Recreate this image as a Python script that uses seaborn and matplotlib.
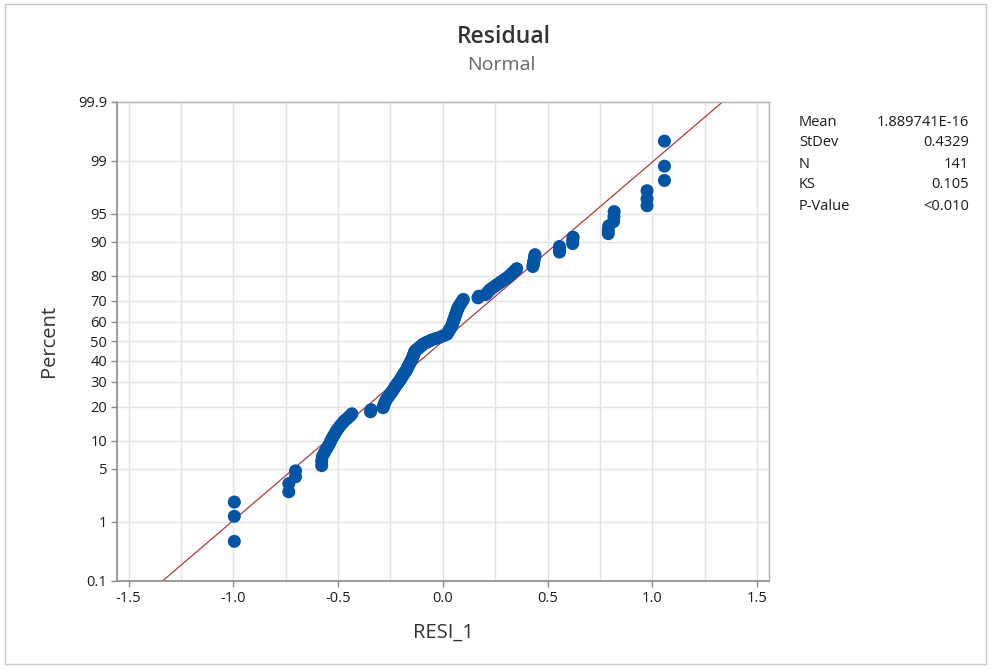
import numpy as np
import pandas as pd
import matplotlib
matplotlib.use("Agg")
import matplotlib.pyplot as plt
from matplotlib.ticker import MultipleLocator, FixedLocator, FixedFormatter
from matplotlib.patches import Rectangle
from statistics import NormalDist
import seaborn as sns

# ---- data (sorted residuals, RESI_1) ----
resid_low = [-0.995, -0.995, -0.995, -0.735, -0.735, -0.703, -0.703,
             -0.578, -0.578, -0.575, -0.565, -0.555, -0.545,
             -0.537, -0.530, -0.522, -0.514, -0.506,
             -0.497, -0.488, -0.478, -0.468, -0.455, -0.443, -0.434,
             -0.345, -0.342]
resid_mid_neg = [-0.285, -0.282, -0.279, -0.275, -0.271,
                 -0.265, -0.259, -0.253, -0.247, -0.241, -0.236,
                 -0.231, -0.226, -0.220, -0.215, -0.209, -0.204,
                 -0.199, -0.195, -0.190, -0.186, -0.181, -0.176, -0.172,
                 -0.169, -0.165, -0.162, -0.158, -0.155, -0.151, -0.148,
                 -0.145, -0.142, -0.140, -0.137, -0.135, -0.132,
                 -0.124, -0.116, -0.108, -0.100, -0.093,
                 -0.080, -0.066, -0.053, -0.033, -0.013]
resid_mid_pos = [0.003, 0.019,
                 0.023, 0.027, 0.031, 0.035, 0.039, 0.043,
                 0.045, 0.047, 0.050, 0.052, 0.054, 0.057, 0.059,
                 0.061, 0.064, 0.066, 0.069, 0.071, 0.074,
                 0.079, 0.084, 0.088, 0.093, 0.098,
                 0.168, 0.172, 0.205, 0.212, 0.219, 0.226,
                 0.238, 0.250, 0.262, 0.274, 0.287, 0.300, 0.313,
                 0.323, 0.333, 0.343, 0.353]
resid_high = [0.430, 0.432, 0.434, 0.436, 0.438, 0.440,
              0.557, 0.557, 0.557, 0.620, 0.620, 0.622,
              0.790, 0.790, 0.792, 0.815, 0.817, 0.818,
              0.975, 0.975, 0.975, 1.058, 1.058, 1.058]

y_ticks = [0.1, 1, 5, 10, 20, 30, 40, 50, 60, 70, 80, 90, 95, 99, 99.9]
y_tick_labels = ["0.1", "1", "5", "10", "20", "30", "40", "50", "60", "70",
                 "80", "90", "95", "99", "99.9"]
x_ticks = [-1.5, -1.0, -0.5, 0.0, 0.5, 1.0, 1.5]

stat_names = ["Mean", "StDev", "N", "KS", "P-Value"]
stat_values = ["1.889741E-16", "0.4329", "141", "0.105", "<0.010"]
fit_mean = 1.889741e-16
fit_sd = 0.4329

# ---- table ----
resid = np.array(resid_low + resid_mid_neg + resid_mid_pos + resid_high)
n = len(resid)
rank = np.arange(1, n + 1)
df = pd.DataFrame({"RESI_1": np.sort(resid)})
df["Percent"] = 100 * (rank - 0.3) / (n + 0.4)   # median ranks (Benard)

nd = NormalDist()
_ppf = np.vectorize(lambda p: nd.inv_cdf(p), otypes=[float])
_cdf = np.vectorize(lambda z: nd.cdf(z), otypes=[float])


def fwd(p):
    p = np.clip(np.asarray(p, dtype=float) / 100.0, 1e-9, 1 - 1e-9)
    return _ppf(p)


def inv(z):
    return 100.0 * _cdf(np.asarray(z, dtype=float))


# fitted line end points (beyond the axis limits, clipped by the axes)
line_df = pd.DataFrame({
    "RESI_1": [fit_mean + fit_sd * nd.inv_cdf(0.0005), fit_mean + fit_sd * nd.inv_cdf(0.9995)],
    "Percent": [0.05, 99.95],
})

# ---- drawing ----
sns.set_style("white")
plt.rcParams["font.family"] = ["Open Sans", "DejaVu Sans"]

fig = plt.figure(figsize=(9.92, 6.68), dpi=100)
ax = fig.add_axes([117 / 992, 1 - 581 / 668, 652 / 992, 479.5 / 668])
ax.set_yscale("function", functions=(fwd, inv))

sns.lineplot(data=line_df, x="RESI_1", y="Percent", ax=ax, color="#b03a3a",
             linewidth=0.9, zorder=2, sort=False)
sns.scatterplot(data=df, x="RESI_1", y="Percent", ax=ax, color="#0054a6",
                s=88, edgecolor="none", linewidth=0, zorder=3)

ax.set_xlim(-1.555, 1.557)
ax.set_ylim(0.1, 99.9)
ax.yaxis.set_major_locator(FixedLocator(y_ticks))
ax.yaxis.set_major_formatter(FixedFormatter(y_tick_labels))
ax.yaxis.set_minor_locator(FixedLocator([]))
ax.xaxis.set_major_locator(FixedLocator(x_ticks))
ax.xaxis.set_major_formatter(FixedFormatter([f"{v:.1f}" for v in x_ticks]))
ax.xaxis.set_minor_locator(MultipleLocator(0.25))

ax.grid(True, which="both", color="#e3e3e3", linewidth=1.0, zorder=0)
ax.set_axisbelow(True)

for side in ["left", "bottom"]:
    ax.spines[side].set_color("#8a8a8a")
    ax.spines[side].set_linewidth(1.2)
for side in ["top", "right"]:
    ax.spines[side].set_color("#b0b0b0")
    ax.spines[side].set_linewidth(1.0)

ax.tick_params(axis="both", which="major", direction="out", length=4, width=1,
               color="#8a8a8a", labelsize=10.5, labelcolor="#1a1a1a", pad=3)
ax.tick_params(axis="x", which="minor", length=0)
ax.tick_params(left=True, bottom=True)

ax.set_xlabel("RESI_1", fontsize=14.5, color="#333333", labelpad=12)
ax.set_ylabel("Percent", fontsize=14.5, color="#333333", labelpad=14)

fig.text(0.508, 0.945, "Residual", ha="center", va="center", fontsize=16.5,
         fontweight="semibold", color="#333333")
fig.text(0.505, 0.902, "Normal", ha="center", va="center", fontsize=14,
         color="#666666")

for k, (name, val) in enumerate(zip(stat_names, stat_values)):
    yy = 1 - (122 + 21 * k) / 668
    fig.text(799 / 992, yy, name, ha="left", va="center", fontsize=10.5, color="#1a1a1a")
    fig.text(969 / 992, yy, val, ha="right", va="center", fontsize=10.5, color="#1a1a1a")

fig.patches.append(Rectangle((5 / 992, 4 / 668), 981 / 992, 660 / 668,
                             transform=fig.transFigure, fill=False,
                             edgecolor="#c8c8c8", linewidth=1.0))

fig.savefig("out.png", dpi=100)
